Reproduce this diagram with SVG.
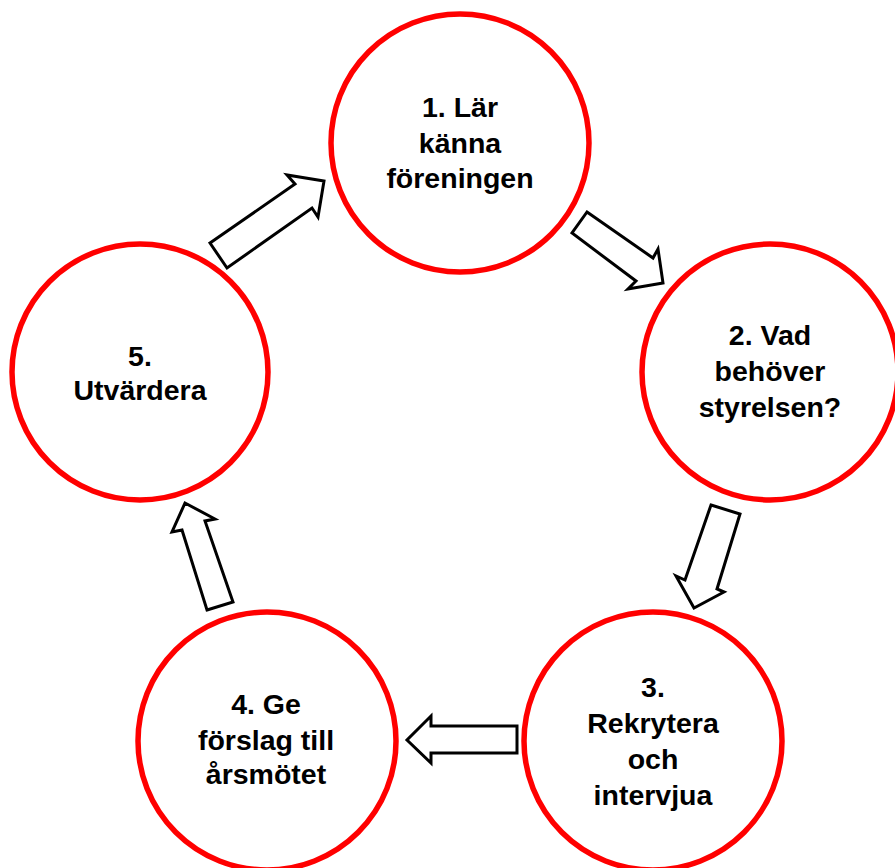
<svg xmlns="http://www.w3.org/2000/svg" width="895" height="868" viewBox="0 0 895 868">
<style>
.c{fill:#fff;stroke:#f00;stroke-width:5.5}
.a{fill:#fff;stroke:#000;stroke-width:3;stroke-linejoin:miter}
text{font-family:"Liberation Sans",Arial,sans-serif;font-weight:bold;font-size:28.5px;fill:#000;text-anchor:middle}
</style>
<rect width="895" height="868" fill="#fff"/>
<g id="connectors">
<polygon class="a" points="210,243 295,184 287,175 324,181 318,217 312,208 227,268"/>
<polygon class="a" points="587,212 653,258 658,249 663,283 628,289 636,281 572,233"/>
<polygon class="a" points="711,505 740,514 717,589 724,592 694,608 676,576 685,580"/>
<polygon class="a" points="517,726 431,726 431,716 407,740 431,763 431,753 517,753"/>
<polygon class="a" points="207,610 233,602 205,521 215,519 185,503 172,532 182,530"/>
</g>
<g id="n1"><circle class="c" cx="460" cy="143" r="129"/>
<text x="460" y="117">1. Lär</text><text x="460" y="153">känna</text><text x="460" y="188">föreningen</text></g>
<g id="n2"><circle class="c" cx="770" cy="372" r="128"/>
<text x="770" y="345">2. Vad</text><text x="770" y="381">behöver</text><text x="770" y="417">styrelsen?</text></g>
<g id="n3"><circle class="c" cx="653" cy="741" r="129"/>
<text x="653" y="697">3.</text><text x="653" y="733">Rekrytera</text><text x="653" y="769">och</text><text x="653" y="805">intervjua</text></g>
<g id="n4"><circle class="c" cx="267" cy="741" r="129"/>
<text x="266" y="714">4. Ge</text><text x="266" y="750">förslag till</text><text x="266" y="784">årsmötet</text></g>
<g id="n5"><circle class="c" cx="140" cy="372" r="128"/>
<text x="140" y="366">5.</text><text x="140" y="400">Utvärdera</text></g>
</svg>
